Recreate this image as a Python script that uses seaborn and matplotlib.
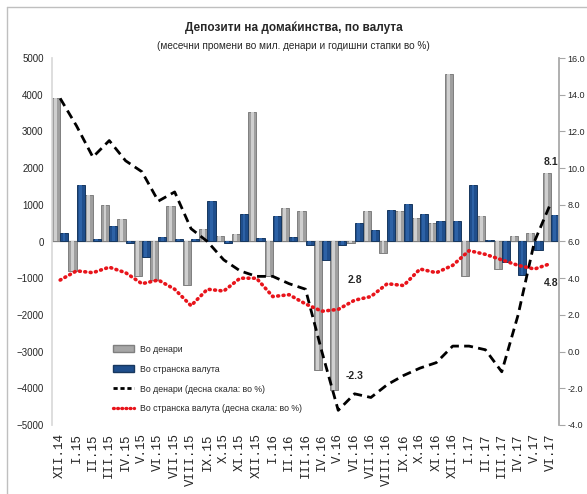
import numpy as np
import pandas as pd
import matplotlib.pyplot as plt
import seaborn as sns
from matplotlib.patches import Patch, Rectangle
from matplotlib.lines import Line2D

#%% data

months = ['XII.14', 'I.15', 'II.15', 'III.15', 'IV.15', 'V.15', 'VI.15', 'VII.15',
          'VIII.15', 'IX.15', 'X.15', 'XI.15', 'XII.15', 'I.16', 'II.16', 'III.16',
          'IV.16', 'V.16', 'VI.16', 'VII.16', 'VIII.16', 'IX.16', 'X.16', 'XI.16',
          'XII.16', 'I.17', 'II.17', 'III.17', 'IV.17', 'V.17', 'VI.17']

# monthly changes, mil. denars
denari = [3900, -800, 1270, 1000, 620, -930, -1040, 980, -1180, 345, 150, 210,
          3540, -950, 910, 820, -3500, -4050, -30, 820, -320, 820, 650, 510,
          4570, -930, 690, -740, 140, 225, 1870]
foreign = [240, 1545, 80, 430, -50, -430, 120, 70, 70, 1100, -50, 760,
           100, 690, 130, -100, -500, -100, 510, 320, 870, 1010, 750, 570,
           570, 1545, 30, -560, -920, -240, 710]

# annual growth rates, % (right scale)
denari_rate = [13.8, 12.3, 10.6, 11.5, 10.4, 9.8, 8.2, 8.7, 6.7, 6.0, 5.0, 4.4,
               4.1, 4.1, 3.7, 3.4, 0.0, -3.2, -2.3, -2.5, -1.8, -1.3, -0.9, -0.6,
               0.3, 0.3, 0.1, -1.1, 2.0, 6.0, 8.1]
foreign_rate = [3.9, 4.4, 4.3, 4.6, 4.3, 3.7, 3.9, 3.4, 2.5, 3.4, 3.3, 4.0,
                4.0, 3.0, 3.1, 2.6, 2.2, 2.3, 2.8, 3.0, 3.7, 3.6, 4.5, 4.3,
                4.7, 5.5, 5.3, 5.0, 4.7, 4.5, 4.8]

lbl_den = 'Во денари'
lbl_for = 'Во странска валута'
lbl_den_r = 'Во денари (десна скала: во %)'
lbl_for_r = 'Во странска валута (десна скала: во %)'

#%% plot

sns.set_theme(style='white')
plt.rcParams['font.family'] = ['Liberation Sans', 'DejaVu Sans']

n = len(months)
bars = pd.DataFrame({'month': months * 2,
                     'value': denari + foreign,
                     'series': [lbl_den] * n + [lbl_for] * n})

fig = plt.figure(figsize=(5.87, 4.94), dpi=100)
ax = fig.add_axes([52/587, 1 - 425/494, 507/587, 367/494])

sns.barplot(data=bars, x='month', y='value', hue='series', order=months,
            palette=['#9f9f9f', '#1f4e8c'], width=1.0, gap=0, ax=ax,
            legend=False, saturation=1)

# edges plus a lighter centre strip, for the shaded look of the source
for p, (edge, light) in zip(ax.containers[0], [('#7f7f7f', '#cfcfcf')] * n):
    p.set_edgecolor(edge)
    p.set_linewidth(0.7)
    ax.add_patch(Rectangle((p.get_x() + p.get_width() * 0.3, p.get_y()),
                           p.get_width() * 0.35, p.get_height(),
                           color=light, lw=0, zorder=p.get_zorder() + 0.1))
for p in ax.containers[1]:
    p.set_edgecolor('#17375e')
    p.set_linewidth(0.7)
    ax.add_patch(Rectangle((p.get_x() + p.get_width() * 0.3, p.get_y()),
                           p.get_width() * 0.35, p.get_height(),
                           color='#2d62a6', lw=0, zorder=p.get_zorder() + 0.1))

ax.axhline(0, color='#a6a6a6', lw=1, zorder=0.5)
ax.set_xlim(-0.5, n - 0.5)
ax.set_ylim(-5000, 5000)
ax.set_yticks(range(-5000, 5001, 1000))
ax.set_xlabel('')
ax.set_ylabel('')
ax.set_xticks(range(n))
ax.set_xticklabels(months, rotation=90, family='Liberation Mono', fontsize=9)
ax.tick_params(axis='x', length=0, pad=6)
ax.tick_params(axis='y', length=0, pad=6, labelsize=7)
for s in ['top', 'bottom', 'right']:
    ax.spines[s].set_visible(False)
ax.spines['left'].set_color('#d9d9d9')

ax2 = ax.twinx()
xs = np.arange(n)
sns.lineplot(x=xs, y=denari_rate, ax=ax2, color='black', lw=2)
sns.lineplot(x=xs, y=foreign_rate, ax=ax2, color='#e8141b', lw=2.6)
ax2.lines[0].set_dashes([3.2, 1.9])
ax2.lines[1].set_dashes([0.25, 1.25])
ax2.lines[1].set_dash_capstyle('round')

ax2.set_ylim(-4, 16)
ax2.set_yticks(range(-4, 17, 2))
ax2.set_yticklabels([f'{v:.1f}' for v in range(-4, 17, 2)])
ax2.tick_params(axis='y', length=4, width=0.8, color='#a6a6a6', pad=2, labelsize=6.5)
for s in ['top', 'bottom', 'left']:
    ax2.spines[s].set_visible(False)
ax2.spines['right'].set_color('#a6a6a6')

# data labels
for i, v, dy in [(18, foreign_rate[18], 20), (18, denari_rate[18], 18),
                 (30, denari_rate[30], 41), (30, foreign_rate[30], -19)]:
    ax2.annotate(f'{v:.1f}', (i, v), xytext=(0, dy), textcoords='offset pixels',
                 ha='center', va='center', fontsize=7.5, fontweight='bold')

handles = [Patch(facecolor='#a6a6a6', edgecolor='#7f7f7f'),
           Patch(facecolor='#1f4e8c', edgecolor='#17375e'),
           Line2D([], [], color='black', lw=2, dashes=[1.5, 1]),
           Line2D([], [], color='#e8141b', lw=2.4, dashes=[0.25, 1.0],
                  dash_capstyle='round')]
ax2.legend(handles, [lbl_den, lbl_for, lbl_den_r, lbl_for_r], loc='lower left',
           bbox_to_anchor=(0.105, 0.01), frameon=False, fontsize=6.3,
           handlelength=2.4, handleheight=0.9, labelspacing=1.25, handletextpad=0.7)

fig.text(0.5, 1 - 28/494, 'Депозити на домаќинства, по валута',
         ha='center', va='center', fontsize=8.5, fontweight='bold')
fig.text(0.5, 1 - 46/494, '(месечни промени во мил. денари и годишни стапки во %)',
         ha='center', va='center', fontsize=7.2)

# outer frame, as in the source image
fig.add_artist(Line2D([7/587, 1], [1 - 7/494] * 2, transform=fig.transFigure,
                      color='#bfbfbf', lw=1))
fig.add_artist(Line2D([7/587] * 2, [0, 1 - 7/494], transform=fig.transFigure,
                      color='#bfbfbf', lw=1))

fig.savefig('out.png', dpi=100)
